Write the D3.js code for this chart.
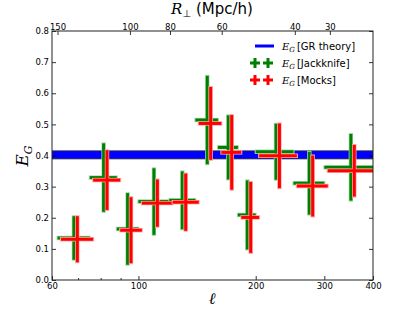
<!DOCTYPE html>
<html>
<head>
<meta charset="utf-8">
<script src="https://cdn.jsdelivr.net/npm/d3@7"></script>
<style>
  body { margin: 0; background: #fff; }
  svg { display: block; }
  .tick text { font-family: "DejaVu Sans", sans-serif; font-size: 8.5px; fill: #000; }
</style>
</head>
<body>
<div class="canvas"></div>
<script>
// ell bins
var ellLo  = [62, 75, 88, 100, 120, 140, 160, 180, 200, 250, 300];
var ellHi  = [75, 88, 100, 120, 140, 160, 180, 200, 250, 300, 400];
var ellMid = [68.3, 81.4, 93.8, 109.6, 129.6, 150.2, 170.1, 190.3, 225.5, 274.5, 351];

// E_G, jackknife errors
var jkVal = [0.135, 0.329, 0.164, 0.252, 0.256, 0.514, 0.426, 0.209, 0.412, 0.311, 0.362];
var jkErr = [0.070, 0.110, 0.115, 0.107, 0.093, 0.142, 0.103, 0.111, 0.090, 0.101, 0.107];

// E_G, mock errors
var mkVal = [0.131, 0.321, 0.160, 0.247, 0.250, 0.503, 0.410, 0.201, 0.399, 0.302, 0.351];
var mkErr = [0.074, 0.096, 0.106, 0.076, 0.092, 0.117, 0.120, 0.114, 0.104, 0.098, 0.083];

// GR prediction band
var grLo = 0.389, grHi = 0.415;

// ticks
var ellTicks = [60, 100, 200, 300, 400];
var ellMinor = [70, 80, 90];
var yTicks = [0, 0.1, 0.2, 0.3, 0.4, 0.5, 0.6, 0.7, 0.8];
var rTicks   = [150, 100, 80, 60, 40, 30];
var rTickEll = [62, 95.1, 120.5, 163.6, 252, 310];

var W = 415, H = 312;
var m = {left: 52, right: 42, top: 31, bottom: 32};

var svg = d3.select('.canvas').append('svg')
            .attr('width', W).attr('height', H);

var x = d3.scaleLog().domain([60, 400]).range([m.left, W - m.right]);
var y = d3.scaleLinear().domain([0, 0.8]).range([H - m.bottom, m.top]);

svg.append('defs').append('clipPath').attr('id', 'clip')
   .append('rect')
     .attr('x', m.left).attr('y', m.top)
     .attr('width', W - m.left - m.right).attr('height', H - m.top - m.bottom);

var plot = svg.append('g').attr('clip-path', 'url(#clip)');

// GR band
plot.append('rect')
    .attr('x', m.left).attr('width', W - m.left - m.right)
    .attr('y', y(grHi)).attr('height', y(grLo) - y(grHi))
    .attr('fill', '#0000ff').attr('stroke', '#333').attr('stroke-width', 0.8);

function crosses(vals, errs, color, pale, dx) {
  var g = plot.append('g');
  vals.forEach(function(v, i) {
    var cx = x(ellMid[i]) + dx;
    var segs = [
      [x(ellLo[i]) + dx, y(v), x(ellHi[i]) + dx, y(v)],
      [cx, y(v - errs[i]), cx, y(v + errs[i])]
    ];
    segs.forEach(function(s) {
      var horiz = s[1] === s[3];
      g.append('line')
        .attr('x1', horiz ? s[0] - 1 : s[0]).attr('x2', horiz ? s[2] + 1 : s[2])
        .attr('y1', horiz ? s[1] : s[1] + 1).attr('y2', horiz ? s[3] : s[3] - 1)
        .attr('stroke', pale).attr('stroke-width', 4.4);
    });
    segs.forEach(function(s) {
      g.append('line')
        .attr('x1', s[0]).attr('y1', s[1]).attr('x2', s[2]).attr('y2', s[3])
        .attr('stroke', color).attr('stroke-width', 3);
    });
  });
}

crosses(jkVal, jkErr, '#008000', '#a8d6a8', 0);
crosses(mkVal, mkErr, '#ff0000', '#ffaaaa', 3.4);

// axes
var fmtY = d3.format('.1f');
svg.append('g')
   .attr('transform', 'translate(0,' + (H - m.bottom) + ')')
   .call(d3.axisBottom(x).tickValues(ellTicks).tickFormat(d3.format('d'))
           .tickSizeInner(-4).tickSizeOuter(0).tickPadding(3));
svg.append('g')
   .attr('transform', 'translate(0,' + (H - m.bottom) + ')')
   .call(d3.axisBottom(x).tickValues(ellMinor).tickFormat('')
           .tickSizeInner(-2).tickSizeOuter(0));
svg.append('g')
   .attr('transform', 'translate(' + m.left + ',0)')
   .call(d3.axisLeft(y).tickValues(yTicks).tickFormat(fmtY)
           .tickSizeInner(-4).tickSizeOuter(0).tickPadding(3));
svg.append('g')
   .attr('transform', 'translate(' + (W - m.right) + ',0)')
   .call(d3.axisRight(y).tickValues(yTicks).tickFormat('')
           .tickSizeInner(-4).tickSizeOuter(0));

// top axis: R_perp at the ell positions
svg.append('g')
   .attr('transform', 'translate(0,' + m.top + ')')
   .call(d3.axisTop(x).tickValues(rTickEll)
           .tickFormat(function(d, i) { return rTicks[i]; })
           .tickSizeInner(-4).tickSizeOuter(0).tickPadding(1.5));

svg.selectAll('.domain').remove();
svg.selectAll('.tick line').attr('stroke', '#000').attr('stroke-width', 0.8);

// frame
svg.append('rect')
   .attr('x', m.left).attr('y', m.top)
   .attr('width', W - m.left - m.right).attr('height', H - m.top - m.bottom)
   .attr('fill', 'none').attr('stroke', '#222').attr('stroke-width', 1);

// labels
svg.append('text')
   .attr('x', 212).attr('y', 304)
   .attr('text-anchor', 'middle')
   .style('font-family', 'DejaVu Serif').style('font-style', 'italic').style('font-size', '16px')
   .text('ℓ');

var yl = svg.append('text')
   .attr('transform', 'translate(28,' + 156 + ') rotate(-90)')
   .attr('text-anchor', 'middle')
   .style('font-family', 'DejaVu Serif').style('font-style', 'italic').style('font-size', '17px');
yl.append('tspan').text('E');
yl.append('tspan').attr('dy', 4).style('font-size', '11px').text('G');

var tl = svg.append('text')
   .attr('x', 212).attr('y', 14)
   .attr('text-anchor', 'middle')
   .style('font-family', 'DejaVu Sans').style('font-size', '15px');
tl.append('tspan').style('font-family', 'DejaVu Serif').style('font-style', 'italic').text('R');
tl.append('tspan').attr('dy', 3).style('font-size', '10px').text('⊥');
tl.append('tspan').attr('dy', -3).text(' (Mpc/h)');

// legend
var legend = svg.append('g');
var items = [
  {label: '[GR theory]', color: '#0000ff', kind: 'line'},
  {label: '[Jackknife]', color: '#008000', kind: 'plus'},
  {label: '[Mocks]',     color: '#ff0000', kind: 'plus'}
];
items.forEach(function(it, i) {
  var ly = 46 + i * 17;
  if (it.kind === 'line') {
    legend.append('line').attr('x1', 255).attr('x2', 274).attr('y1', ly).attr('y2', ly)
          .attr('stroke', it.color).attr('stroke-width', 3);
  } else {
    [255, 268].forEach(function(px) {
      legend.append('line').attr('x1', px - 5).attr('x2', px + 5).attr('y1', ly).attr('y2', ly)
            .attr('stroke', it.color).attr('stroke-width', 3);
      legend.append('line').attr('x1', px).attr('x2', px).attr('y1', ly - 5).attr('y2', ly + 5)
            .attr('stroke', it.color).attr('stroke-width', 3);
    });
  }
  var t = legend.append('text').attr('x', 282).attr('y', ly + 4)
         .style('font-family', 'DejaVu Sans').style('font-size', '10px');
  t.append('tspan').style('font-family', 'DejaVu Serif').style('font-style', 'italic').text('E');
  t.append('tspan').attr('dy', 2).style('font-family', 'DejaVu Serif').style('font-style', 'italic')
   .style('font-size', '7px').text('G');
  t.append('tspan').attr('dy', -2).attr('dx', 2).text(it.label);
});
</script>
</body>
</html>
